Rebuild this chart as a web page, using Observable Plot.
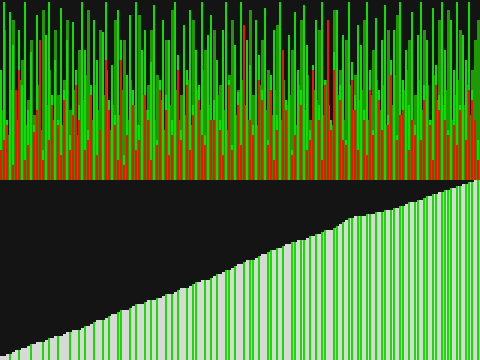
<!DOCTYPE html>
<html><head><meta charset="utf-8">
<style>html,body{margin:0;padding:0;background:#141414;overflow:hidden}svg{display:block}</style>
<script src="https://cdn.jsdelivr.net/npm/d3@7"></script>
<script src="https://cdn.jsdelivr.net/npm/@observablehq/plot@0.6"></script>
</head><body><div id="c"></div>
<script>
const green = [
110,178,60,168,135,40,150,95,178,70, 128,55,165,100,30,145,178,85,120,60,
172,90,140,45,158,110,75,178,130,50, 95,160,120,35,148,178,80,115,65,170,
140,25,105,165,90,178,55,130,150,70, 118,175,40,100,160,85,140,60,178,125,
50,155,110,170,75,130,95,178,45,145, 165,80,120,60,150,178,100,35,135,88,
178,70,140,115,55,160,125,90,172,40, 105,150,65,178,120,80,145,30,168,110,
90,175,135,50,115,160,75,178,100,140, 60,128,170,95,145,40,178,118,85,155,
135,70,178,110,50,162,90,140,175,65, 120,150,45,178,100,130,75,168,55,145,
178,95,140,60,172,115,85,178,130,50, 160,110,178,75,145,120,178,90,60,40];
const darkGreen = [
70,150,45,90,160,60,100,120,55,80, 140,65,95,50,170,75,110,60,150,85,
55,100,160,70,90,45,130,80,105,170, 60,95,70,150,85,110,50,75,160,65,
90,140,60,100,75,55,165,85,70,95, 150,60,105,80,50,140,75,170,90,60,
85,65,100,55,160,90,70,110,130,75, 60,150,85,95,70,50,105,160,65,90,
100,75,60,170,85,55,95,140,70,110, 65,90,155,60,100,75,85,130,55,95,
160,70,105,60,90,80,150,65,100,75, 55,170,85,110,60,140,95,70,105,80,
90,160,60,85,130,100,70,95,55,150, 75,105,165,65,90,110,140,60,85,100,
70,150,95,60,105,80,160,75,90,170, 60,85,100,150,75,95,65,110,140,160];
const red = [
30,40,55,0,15,90,110,0,20,35, 0,48,70,140,20,0,40,75,0,55,
25,80,0,30,65,95,60,0,30,40, 85,0,25,50,0,120,70,0,55,20,
120,15,45,0,75,30,40,0,85,60, 20,0,35,90,0,70,25,45,0,110,
40,0,95,30,65,0,80,45,35,0, 60,60,0,50,25,0,95,30,0,75,
35,155,0,60,45,0,100,80,0,35, 90,20,50,0,130,70,0,25,45,0,
75,0,30,40,110,0,60,20,95,160, 50,110,0,80,40,35,0,100,70,30,
0,60,25,90,45,0,80,50,0,55, 105,0,40,65,70,0,30,60,45,0,
40,80,0,55,20,95,70,0,60,45, 0,55,35,70,0,40,90,80,60,20];
const ranked = [
4,4,6,6,8,10,10,12,12,14, 16,16,18,18,18,20,22,22,24,24,
24,26,28,28,30,30,30,32,34,34, 36,38,40,40,40,42,44,46,46,48,
50,50,50,52,54,56,56,56,58,60, 60,60,62,62,64,66,66,66,68,70,
72,72,72,74,76,78,78,80,80,80, 82,84,86,86,88,90,90,92,94,96,
96,98,100,100,100,102,104,106,106,108, 110,110,112,112,114,116,116,118,118,120,
120,120,122,124,124,126,126,128,130,130, 130,132,134,136,138,140,142,142,144,144,
144,144,146,146,146,148,148,148,150,150, 150,152,152,154,154,156,158,158,158,160,
160,162,164,164,166,166,168,168,170,170, 172,172,174,174,176,176,178,178,180,180];
const rankGreen = [
0,0,0,1,0,0,1,0,0,0, 1,0,0,0,1,0,1,0,0,1, 0,0,0,1,0,0,1,0,1,0,
0,1,0,0,1,0,1,0,0,1, 1,0,0,1,0,1,0,0,1,0, 1,0,1,0,0,1,0,1,0,1,
0,0,1,0,1,1,0,0,1,0, 1,0,1,0,0,1,1,0,1,0, 0,1,0,1,1,0,1,0,0,1,
1,0,1,0,1,0,0,1,1,0, 1,1,0,1,0,1,0,1,1,0, 0,1,1,0,1,0,1,1,0,1,
1,0,1,1,0,1,0,1,1,0, 1,1,0,1,1,0,1,0,1,1, 0,1,1,0,1,1,0,1,1,1,
1,0,1,1,0,1,1,1,0,1];
const idx = d3.range(green.length);
const xs = {domain: idx, axis: null, padding: 0};
const crisp = {shapeRendering: "crispEdges"};
const topPlot = Plot.plot({
  width: 480, height: 180, margin: 0,
  x: xs, y: {domain: [0, 180], axis: null},
  style: {background: "#141414"},
  marks: [
    Plot.barY(idx, {x: d => d, y: d => darkGreen[d], fill: "#1f9a05", ...crisp}),
    Plot.barY(idx, {x: d => d, y: d => green[d], fill: "#0be000", insetRight: 1, ...crisp}),
    Plot.barY(idx.filter(i => red[i] > 0), {x: d => d, y: d => red[d], fill: "#f01500", insetRight: 1, ...crisp})
  ]
});
const greenIdx = idx.filter(i => rankGreen[i] === 1);
const botPlot = Plot.plot({
  width: 480, height: 180, margin: 0,
  x: xs, y: {domain: [0, 180], axis: null},
  style: {background: "#141414"},
  marks: [
    Plot.barY(idx, {x: d => d, y: d => ranked[d], fill: "#d8d8d8", ...crisp}),
    Plot.barY(greenIdx, {x: d => d, y: d => ranked[d], fill: "#16de00", insetRight: 1, ...crisp})
  ]
});
const c = document.getElementById("c");
c.append(topPlot, botPlot);
</script></body></html>
